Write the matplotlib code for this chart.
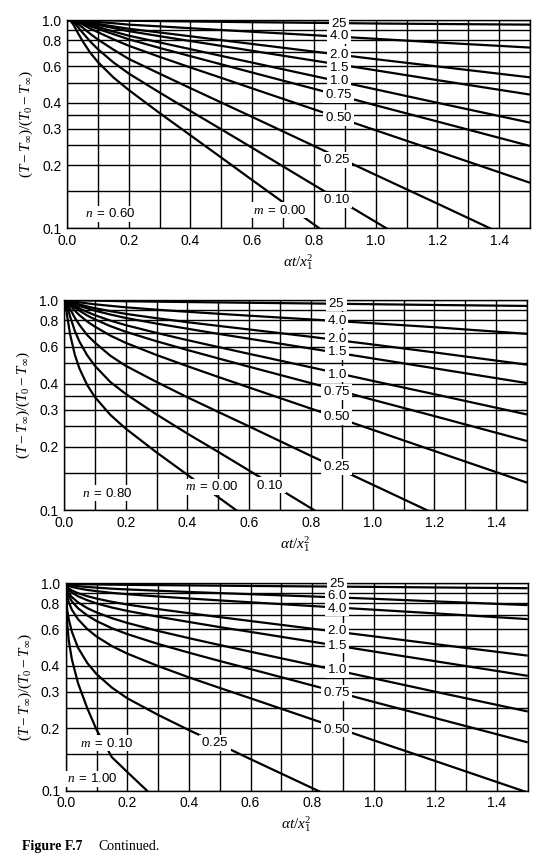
import numpy as np
import matplotlib
matplotlib.use('Agg')
import matplotlib.pyplot as plt
from matplotlib.patches import Rectangle
from matplotlib.ticker import FixedLocator, NullFormatter, FixedFormatter

plt.rcParams['font.family'] = ['Liberation Sans', 'DejaVu Sans']
plt.rcParams['mathtext.fontset'] = 'custom'
plt.rcParams['mathtext.rm'] = 'Liberation Serif'
plt.rcParams['mathtext.it'] = 'Liberation Serif:italic'
plt.rcParams['mathtext.bf'] = 'Liberation Serif:bold'
plt.rcParams['mathtext.sf'] = 'Liberation Sans'

# ---------------- data ----------------
# Panel n = 0.60
X_N060 = [0, 0.01, 0.02, 0.035, 0.05, 0.075, 0.1, 0.15, 0.2, 0.3, 0.4, 0.5, 0.6, 0.8, 1.0, 1.2, 1.5]
n060_m25 = [1, 1, 1, 1, 1, 0.999, 0.998, 0.995, 0.992, 0.988, 0.984, 0.980, 0.976, 0.969, 0.962, 0.957, 0.950]
n060_m4 = [1, 1, 0.999, 0.997, 0.992, 0.985, 0.977, 0.965, 0.950, 0.932, 0.913, 0.895, 0.878, 0.845, 0.812, 0.780, 0.737]
n060_m2 = [1, 1, 0.998, 0.992, 0.985, 0.971, 0.958, 0.932, 0.908, 0.871, 0.835, 0.800, 0.767, 0.705, 0.648, 0.598, 0.530]
n060_m15 = [1, 1, 0.998, 0.990, 0.982, 0.963, 0.947, 0.915, 0.884, 0.836, 0.792, 0.751, 0.711, 0.638, 0.573, 0.514, 0.438]
n060_m1 = [1, 1, 0.997, 0.986, 0.973, 0.947, 0.926, 0.880, 0.841, 0.780, 0.724, 0.672, 0.624, 0.538, 0.464, 0.400, 0.321]
n060_m075 = [1, 1, 0.996, 0.982, 0.965, 0.933, 0.907, 0.855, 0.808, 0.734, 0.670, 0.612, 0.559, 0.467, 0.389, 0.325, 0.248]
n060_m05 = [1, 1, 0.994, 0.974, 0.953, 0.910, 0.874, 0.808, 0.752, 0.665, 0.591, 0.527, 0.469, 0.372, 0.295, 0.234, 0.165]
n060_m025 = [1, 0.999, 0.989, 0.957, 0.921, 0.859, 0.806, 0.721, 0.650, 0.552, 0.470, 0.401, 0.342, 0.248, 0.180, 0.131, 0.081]
n060_m01 = [1, 0.999, 0.980, 0.926, 0.871, 0.789, 0.724, 0.626, 0.553, 0.448, 0.365, 0.298, 0.243, 0.161, 0.107, 0.071, 0.039]
n060_m0 = [1, 0.995, 0.954, 0.868, 0.794, 0.697, 0.628, 0.530, 0.461, 0.357, 0.279, 0.218, 0.170, 0.104, 0.064, 0.039, 0.019]

# Panel n = 0.80
X_N080 = [0, 0.005, 0.01, 0.02, 0.035, 0.05, 0.075, 0.1, 0.15, 0.2, 0.3, 0.4, 0.5, 0.6, 0.8, 1.0, 1.2, 1.5]
n080_m25 = [1, 1, 1, 1, 0.999, 0.998, 0.996, 0.994, 0.990, 0.986, 0.982, 0.978, 0.974, 0.970, 0.963, 0.955, 0.947, 0.937]
n080_m4 = [1, 1, 0.998, 0.993, 0.983, 0.975, 0.964, 0.954, 0.938, 0.923, 0.899, 0.879, 0.860, 0.842, 0.808, 0.775, 0.742, 0.690]
n080_m2 = [1, 0.999, 0.996, 0.985, 0.966, 0.953, 0.932, 0.914, 0.885, 0.859, 0.819, 0.784, 0.753, 0.724, 0.668, 0.614, 0.563, 0.492]
n080_m15 = [1, 0.999, 0.995, 0.979, 0.958, 0.938, 0.913, 0.890, 0.853, 0.821, 0.772, 0.730, 0.690, 0.654, 0.587, 0.527, 0.473, 0.402]
n080_m1 = [1, 0.998, 0.991, 0.971, 0.939, 0.913, 0.877, 0.847, 0.798, 0.759, 0.697, 0.644, 0.597, 0.554, 0.478, 0.412, 0.356, 0.285]
n080_m075 = [1, 0.998, 0.989, 0.960, 0.921, 0.890, 0.844, 0.809, 0.751, 0.706, 0.636, 0.578, 0.527, 0.481, 0.402, 0.335, 0.280, 0.213]
n080_m05 = [1, 0.998, 0.982, 0.944, 0.890, 0.847, 0.790, 0.747, 0.677, 0.625, 0.547, 0.484, 0.430, 0.383, 0.304, 0.241, 0.191, 0.135]
n080_m025 = [1, 0.994, 0.967, 0.905, 0.823, 0.761, 0.681, 0.627, 0.543, 0.486, 0.407, 0.344, 0.293, 0.250, 0.181, 0.132, 0.096, 0.059]
n080_m01 = [1, 0.988, 0.937, 0.832, 0.713, 0.634, 0.546, 0.486, 0.407, 0.357, 0.285, 0.231, 0.189, 0.154, 0.102, 0.068, 0.045, 0.024]
n080_m0 = [1, 0.955, 0.843, 0.683, 0.549, 0.472, 0.394, 0.345, 0.284, 0.244, 0.188, 0.147, 0.115, 0.090, 0.055, 0.033, 0.020, 0.010]

# Panel n = 1.00
X_N100 = [0, 0.002, 0.005, 0.01, 0.02, 0.04, 0.07, 0.1, 0.15, 0.2, 0.3, 0.4, 0.5, 0.6, 0.8, 1.0, 1.2, 1.5]
n100_m25 = [1, 0.998, 0.997, 0.995, 0.993, 0.991, 0.989, 0.987, 0.985, 0.983, 0.980, 0.977, 0.974, 0.971, 0.966, 0.961, 0.955, 0.947]
n100_m6 = [1, 0.993, 0.989, 0.984, 0.978, 0.969, 0.960, 0.953, 0.942, 0.934, 0.921, 0.908, 0.897, 0.886, 0.864, 0.842, 0.818, 0.785]
n100_m4 = [1, 0.987, 0.980, 0.972, 0.961, 0.946, 0.929, 0.917, 0.899, 0.886, 0.864, 0.845, 0.827, 0.810, 0.777, 0.746, 0.716, 0.672]
n100_m2 = [1, 0.975, 0.961, 0.946, 0.924, 0.896, 0.867, 0.844, 0.814, 0.790, 0.751, 0.718, 0.687, 0.658, 0.604, 0.555, 0.509, 0.448]
n100_m15 = [1, 0.967, 0.949, 0.928, 0.902, 0.866, 0.829, 0.800, 0.764, 0.736, 0.690, 0.651, 0.615, 0.583, 0.523, 0.469, 0.421, 0.358]
n100_m1 = [1, 0.952, 0.924, 0.896, 0.858, 0.809, 0.759, 0.724, 0.679, 0.644, 0.589, 0.544, 0.504, 0.468, 0.404, 0.348, 0.300, 0.241]
n100_m075 = [1, 0.936, 0.902, 0.866, 0.818, 0.758, 0.700, 0.658, 0.607, 0.569, 0.510, 0.463, 0.422, 0.386, 0.322, 0.268, 0.224, 0.171]
n100_m05 = [1, 0.906, 0.858, 0.809, 0.746, 0.671, 0.602, 0.554, 0.498, 0.458, 0.399, 0.352, 0.313, 0.279, 0.221, 0.175, 0.139, 0.098]
n100_m025 = [1, 0.826, 0.746, 0.671, 0.584, 0.489, 0.413, 0.365, 0.314, 0.279, 0.232, 0.196, 0.167, 0.142, 0.103, 0.075, 0.054, 0.033]
n100_m01 = [1, 0.76, 0.64, 0.53, 0.43, 0.33, 0.25, 0.197, 0.145, 0.123, 0.089, 0.070, 0.055, 0.043, 0.027, 0.017, 0.011, 0.005]

# curve labels: (text, x, y)
LABELS_N060 = [('25', 0.88, 0.967), ('4.0', 0.88, 0.840), ('2.0', 0.88, 0.684),
               ('1.5', 0.88, 0.594), ('1.0', 0.88, 0.513), ('0.75', 0.88, 0.436),
               ('0.50', 0.88, 0.339), ('0.25', 0.873, 0.213), ('0.10', 0.873, 0.137),
               ('m = 0.00', 0.69, 0.122), ('n = 0.60', 0.14, 0.117)]
LABELS_N080 = [('25', 0.883, 0.964), ('4.0', 0.883, 0.803), ('2.0', 0.883, 0.657),
               ('1.5', 0.883, 0.567), ('1.0', 0.883, 0.444), ('0.75', 0.883, 0.366),
               ('0.50', 0.883, 0.278), ('0.25', 0.883, 0.161), ('0.10', 0.667, 0.1315),
               ('m = 0.00', 0.478, 0.129), ('n = 0.80', 0.141, 0.120)]
LABELS_N100 = [('25', 0.88, 0.995), ('6.0', 0.88, 0.870), ('4.0', 0.88, 0.758),
               ('2.0', 0.88, 0.589), ('1.5', 0.88, 0.504), ('1.0', 0.88, 0.382),
               ('0.75', 0.88, 0.297), ('0.50', 0.88, 0.198), ('0.25', 0.485, 0.170),
               ('m = 0.10', 0.133, 0.169), ('n = 1.00', 0.087, 0.114)]

Y_TICKS = [0.1, 0.2, 0.3, 0.4, 0.6, 0.8, 1.0]
Y_TICK_LABELS = ['0.1', '0.2', '0.3', '0.4', '0.6', '0.8', '1.0']
Y_GRID_MINOR = [0.15, 0.25, 0.35, 0.5, 0.7, 0.9]
X_TICKS = [0.0, 0.2, 0.4, 0.6, 0.8, 1.0, 1.2, 1.4]
X_GRID_MINOR = [0.1, 0.3, 0.5, 0.7, 0.9, 1.1, 1.3, 1.5]


def as_math(label):
    """Render a curve label with mathtext (tight text box): italic m/n, sans digits."""
    if ' = ' in label:
        var, val = label.split(' = ')
        return r'$%s\;\mathsf{=}\;\mathsf{%s}$' % (var, val)
    return r'$\mathsf{%s}$' % label


# ---------------- figure ----------------
W, H = 548, 867
fig = plt.figure(figsize=(W / 100, H / 100), dpi=100)

panels = [
    ((67, 20, 530, 228), X_N060,
     [n060_m25, n060_m4, n060_m2, n060_m15, n060_m1, n060_m075, n060_m05, n060_m025, n060_m01, n060_m0],
     LABELS_N060),
    ((64, 300, 527, 510), X_N080,
     [n080_m25, n080_m4, n080_m2, n080_m15, n080_m1, n080_m075, n080_m05, n080_m025, n080_m01, n080_m0],
     LABELS_N080),
    ((65.7, 583.3, 527.7, 790.7), X_N100,
     [n100_m25, n100_m6, n100_m4, n100_m2, n100_m15, n100_m1, n100_m075, n100_m05, n100_m025, n100_m01],
     LABELS_N100),
]

label_texts = []
for (l, t, r, b), X, curves, labels in panels:
    ax = fig.add_axes([l / W, 1 - b / H, (r - l) / W, (b - t) / H])
    ax.set_yscale('log')
    ax.set_xlim(0, 1.5)
    ax.set_ylim(0.1, 1.0)
    ax.yaxis.set_major_locator(FixedLocator(Y_TICKS))
    ax.yaxis.set_major_formatter(FixedFormatter(Y_TICK_LABELS))
    ax.yaxis.set_minor_locator(FixedLocator(Y_GRID_MINOR))
    ax.yaxis.set_minor_formatter(NullFormatter())
    ax.xaxis.set_major_locator(FixedLocator(X_TICKS))
    ax.set_xticklabels([f'{v:.1f}' for v in X_TICKS])
    ax.xaxis.set_minor_locator(FixedLocator(X_GRID_MINOR))
    ax.xaxis.set_minor_formatter(NullFormatter())
    ax.set_axisbelow(True)
    ax.grid(True, which='both', color='black', linewidth=1.0)
    ax.tick_params(which='both', length=0, labelsize=10, pad=4, colors='black')
    for sp in ax.spines.values():
        sp.set_linewidth(1.0)
        sp.set_color('black')

    for ys in curves:
        ax.plot(X, ys, color='black', linewidth=1.6, solid_capstyle='butt', zorder=3)

    for txt, lx, ly in labels:
        tobj = ax.text(lx, ly, as_math(txt), ha='center', va='center', fontsize=9.5,
                       color='black', zorder=6, clip_on=False)
        label_texts.append((ax, tobj))

    ax.set_ylabel(r'$(T - T_\infty)/(T_0 - T_\infty)$', fontsize=11, labelpad=5)
    ax.set_xlabel(r'$\alpha t/x_1^2$', fontsize=11, labelpad=3)

# white rectangles behind each curve label (hide the lines under the text)
fig.canvas.draw()
renderer = fig.canvas.get_renderer()
for ax, tobj in label_texts:
    bb = tobj.get_window_extent(renderer)
    x0, y0 = bb.x0 - 2.0, bb.y0 - 1.5
    x1, y1 = bb.x1 + 2.0, bb.y1 + 1.5
    inv = ax.transAxes.inverted()
    (ax0, ay0), (ax1, ay1) = inv.transform([(x0, y0), (x1, y1)])
    ax.add_patch(Rectangle((ax0, ay0), ax1 - ax0, ay1 - ay0, transform=ax.transAxes,
                           facecolor='white', edgecolor='none', zorder=5, clip_on=False))

fig.text(21.7 / W, 1 - 846.7 / H, 'Figure F.7', fontfamily='Liberation Serif',
         fontweight='bold', fontsize=10, va='center', ha='left')
fig.text(98.3 / W, 1 - 846.7 / H, 'Continued.', fontfamily='Liberation Serif',
         fontsize=10, va='center', ha='left')

fig.savefig('out.png', dpi=100)
